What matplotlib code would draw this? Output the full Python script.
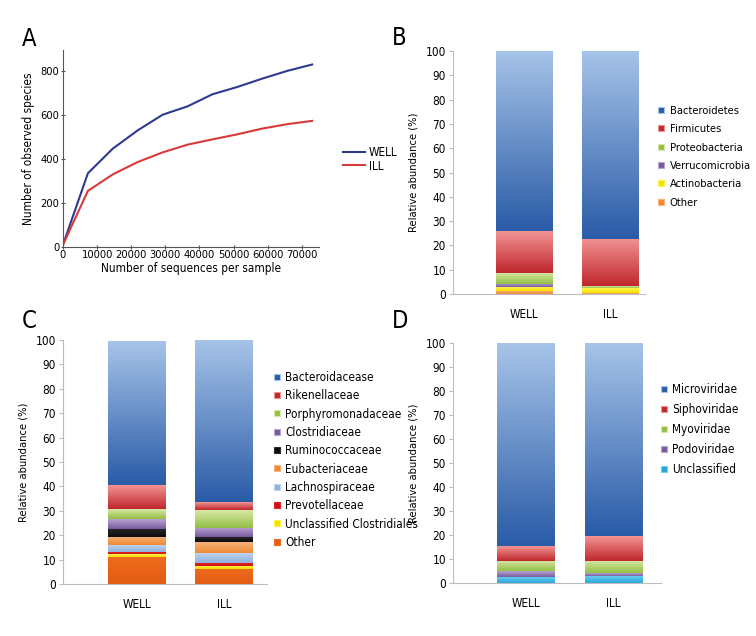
import numpy as np
import matplotlib
matplotlib.use("Agg")
import matplotlib.pyplot as plt
from matplotlib import font_manager as fm
from matplotlib.colors import LinearSegmentedColormap
from matplotlib.lines import Line2D

# the original uses a condensed sans; pick a narrow face if one is installed
narrow = None
for f in fm.fontManager.ttflist:
    if f.style != 'normal' or f.weight not in (400, 'normal', 'regular'):
        continue
    if 'Narrow' in f.name or 'Condensed' in f.name or 'condensed' in str(f.stretch):
        if narrow is None or f.name.startswith('Liberation'):
            narrow = f
if narrow is not None:
    plt.rcParams['font.family'] = [narrow.name, 'DejaVu Sans']
    plt.rcParams['font.stretch'] = narrow.stretch
else:
    plt.rcParams['font.family'] = ['DejaVu Sans']
    plt.rcParams['font.stretch'] = 'condensed'

# ---- data ----
seq_depth = [0, 7300, 14600, 21900, 29200, 36500, 43800, 51100, 58400, 65700, 73000]
well_species = [10, 335, 447, 530, 601, 639, 694, 727, 765, 800, 829]
ill_species = [10, 255, 330, 386, 430, 465, 489, 512, 538, 558, 573]

groups = ['WELL', 'ILL']

phylum_names = ['Bacteroidetes', 'Firmicutes', 'Proteobacteria', 'Verrucomicrobia',
                'Actinobacteria', 'Other']
phylum_well = [74.2, 17.2, 4.6, 1.3, 1.4, 1.3]
phylum_ill = [77.4, 19.5, 0.7, 0.1, 1.9, 0.4]

family_names = ['Bacteroidacease', 'Rikenellaceae', 'Porphyromonadaceae', 'Clostridiaceae',
                'Ruminococcaceae', 'Eubacteriaceae', 'Lachnospiraceae', 'Prevotellaceae',
                'Unclassified Clostridiales', 'Other']
family_well = [59.0, 9.8, 4.0, 4.0, 3.4, 3.3, 3.0, 0.8, 1.0, 11.2]
family_ill = [66.5, 3.2, 7.2, 3.7, 2.3, 4.2, 4.4, 1.0, 1.3, 6.2]

virus_names = ['Microviridae', 'Siphoviridae', 'Myoviridae', 'Podoviridae', 'Unclassified']
virus_well = [84.5, 6.2, 4.5, 2.1, 2.7]
virus_ill = [80.3, 10.4, 5.2, 1.0, 3.1]

# colours (top-light, bottom-dark) for gradient fills
BLUE = ('#a6c3e8', '#2b5ca8')
RED = ('#f29393', '#c0272d')
GREEN = ('#d8e7a6', '#93bf45')
PURPLE = ('#b9a3cf', '#775a9f')
YELLOW = ('#fff34d', '#f5e000')
ORANGE = ('#f6b27a', '#ee8a34')
BLACK = ('#2a2a2a', '#0c0c0c')
DORANGE = ('#ee6a1c', '#e35d12')
LBLUE = ('#c4d6ef', '#8eb0de')
BRED = ('#e32424', '#d10f10')
CYAN = ('#6fd0f2', '#28a6da')

phylum_colors = [BLUE, RED, GREEN, PURPLE, YELLOW, ORANGE]
family_colors = [BLUE, RED, GREEN, PURPLE, BLACK, ORANGE, LBLUE, BRED, YELLOW, DORANGE]
virus_colors = [BLUE, RED, GREEN, PURPLE, CYAN]

FS = 8.5
fig = plt.figure(figsize=(7.56, 6.36), dpi=100)
grad = np.linspace(0, 1, 64).reshape(-1, 1)


def gradient_bar(ax, x, bottom, height, width, cols):
    # stack segment as a bar, then paint a vertical gradient clipped to it
    bars = ax.bar(x, height, width, bottom=bottom, color='none', edgecolor='none')
    cmap = LinearSegmentedColormap.from_list('g', [cols[1], cols[0]])
    for p in bars.patches:
        x0, y0 = p.get_x(), p.get_y()
        im = ax.imshow(grad, cmap=cmap, aspect='auto', origin='lower',
                       extent=(x0, x0 + p.get_width(), y0, y0 + p.get_height()),
                       interpolation='bilinear', zorder=2)
        im.set_clip_path(p)


def stacked_panel(rect, names, well, ill, colors, xlim, leg_anchor, spacing, leg_fs=FS):
    ax = fig.add_axes(rect)
    values = [well, ill]
    for gi in range(len(groups)):
        bottom = 0
        # draw from the last category (bottom) up to the first one (top)
        for ci in range(len(names) - 1, -1, -1):
            gradient_bar(ax, gi, bottom, values[gi][ci], 0.66, colors[ci])
            bottom += values[gi][ci]
    ax.set_xlim(*xlim)
    ax.set_ylim(0, 100)
    ax.set_yticks(range(0, 101, 10))
    ax.set_xticks([0, 1])
    ax.set_xticklabels(groups)
    for s in ['top', 'right']:
        ax.spines[s].set_visible(False)
    for s in ['left', 'bottom']:
        ax.spines[s].set_color('#bdbdbd')
        ax.spines[s].set_linewidth(0.8)
    ax.tick_params(axis='y', length=3, color='#bdbdbd', labelsize=FS, pad=2)
    ax.tick_params(axis='x', length=0, labelsize=FS, pad=10)
    ax.set_ylabel('Relative abundance (%)', fontsize=FS - 0.5, labelpad=5)
    handles = [Line2D([], [], marker='s', linestyle='none', markersize=4.5,
                      markerfacecolor=c[1], markeredgecolor=c[0], markeredgewidth=0.8)
               for c in colors]
    fig.legend(handles, names, loc='upper left', bbox_to_anchor=leg_anchor, frameon=False,
               fontsize=leg_fs, handlelength=0.6, handletextpad=0.45, labelspacing=spacing,
               borderaxespad=0, borderpad=0)
    return ax


# ---- A: rarefaction curves ----
axA = fig.add_axes([0.0833, 0.6116, 0.3386, 0.3098])
axA.plot(seq_depth, well_species, color='#2e3a8f', lw=1.5, label='WELL')
axA.plot(seq_depth, ill_species, color='#d83a3a', lw=1.5, label='ILL')
axA.set_xlim(0, 75000)
axA.set_ylim(0, 895)
axA.set_xticks(range(0, 70001, 10000))
axA.set_yticks(range(0, 801, 200))
for s in ['top', 'right']:
    axA.spines[s].set_visible(False)
for s in ['left', 'bottom']:
    axA.spines[s].set_color('#555555')
    axA.spines[s].set_linewidth(0.8)
axA.tick_params(length=3, direction='inout', color='#555555', labelsize=8, pad=1)
axA.set_xlabel('Number of sequences per sample', fontsize=FS, labelpad=1)
axA.set_ylabel('Number of observed species', fontsize=FS, labelpad=4)
fig.legend(*axA.get_legend_handles_labels(), loc='upper left',
           bbox_to_anchor=(343 / 756, 1 - 146 / 636), frameon=False, fontsize=FS,
           handlelength=1.9, handletextpad=0.3, labelspacing=0.05, borderaxespad=0,
           borderpad=0)

# ---- B: phylum ----
stacked_panel([0.5992, 0.5377, 0.254, 0.3821], phylum_names, phylum_well, phylum_ill,
              phylum_colors, (-0.826, 1.407), (658 / 756, 1 - 106 / 636), 0.75, 8)

# ---- C: family ----
stacked_panel([0.0833, 0.0818, 0.2698, 0.3836], family_names, family_well, family_ill,
              family_colors, (-0.84, 1.49), (273 / 756, 1 - 371 / 636), 0.45)

# ---- D: viruses ----
stacked_panel([0.5992, 0.0833, 0.2751, 0.3774], virus_names, virus_well, virus_ill,
              virus_colors, (-0.834, 1.543), (660 / 756, 1 - 383 / 636), 0.6)

# panel letters
for lab, x, y in [('A', 22, 46), ('B', 392, 45), ('C', 22, 328), ('D', 392, 328)]:
    fig.text(x / 756, 1 - y / 636, lab, fontsize=17, va='baseline', ha='left')

fig.savefig('out.png', dpi=100)
